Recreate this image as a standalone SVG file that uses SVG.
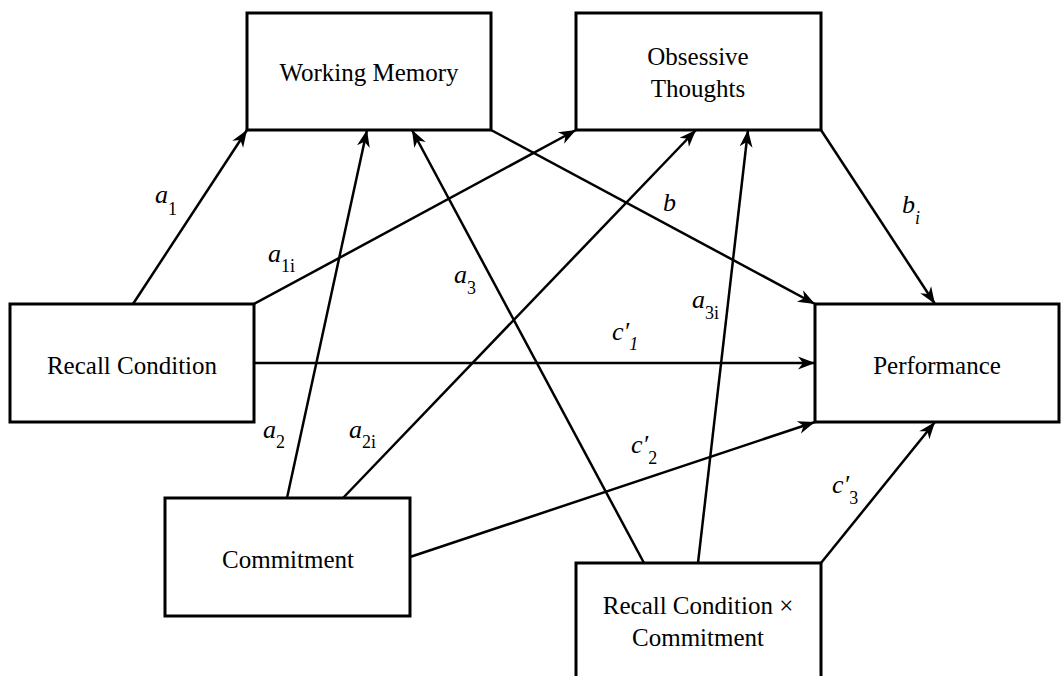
<svg xmlns="http://www.w3.org/2000/svg" width="1064" height="676" viewBox="0 0 1064 676">
<style>
.box{fill:#fff;stroke:#000;stroke-width:3}
.c{fill:none;stroke:#000;stroke-width:2.5;marker-end:url(#ah)}
</style>
<defs>
<marker id="ah" markerUnits="userSpaceOnUse" markerWidth="20" markerHeight="16" viewBox="-18 -8 20 16" refX="0" refY="0" orient="auto">
<path d="M0,0 L-17,-6.5 L-12,0 L-17,6.5 Z" fill="#000"/>
</marker>
</defs>
<rect width="1064" height="676" fill="#fff"/>
<g id="connectors">
<line class="c" x1="133" y1="304" x2="247" y2="130"/>
<line class="c" x1="254" y1="304" x2="576" y2="130"/>
<line class="c" x1="287" y1="498" x2="367" y2="130"/>
<line class="c" x1="343" y1="498" x2="696" y2="130"/>
<line class="c" x1="644" y1="563" x2="412" y2="130"/>
<line class="c" x1="698" y1="563" x2="748" y2="130"/>
<line class="c" x1="491" y1="130" x2="815" y2="304"/>
<line class="c" x1="821" y1="130" x2="935" y2="304"/>
<line class="c" x1="254" y1="363" x2="815" y2="363"/>
<line class="c" x1="410" y1="557" x2="815" y2="422"/>
<line class="c" x1="821" y1="563" x2="935" y2="422"/>
</g>
<g id="labels" font-family="Liberation Serif" font-style="italic" font-size="26" fill="#000">
<text x="155" y="203">a<tspan font-size="18" font-style="normal" dy="12">1</tspan></text>
<text x="268" y="262">a<tspan font-size="18" font-style="normal" dy="10">1i</tspan></text>
<text x="454" y="283">a<tspan font-size="18" font-style="normal" dy="11">3</tspan></text>
<text x="663" y="211">b</text>
<text x="902" y="213">b<tspan font-size="18" dy="11">i</tspan></text>
<text x="692" y="308">a<tspan font-size="18" font-style="normal" dy="11">3i</tspan></text>
<text x="612" y="340">c′<tspan font-size="18" dy="10">1</tspan></text>
<text x="263" y="438">a<tspan font-size="18" font-style="normal" dy="10">2</tspan></text>
<text x="349" y="438">a<tspan font-size="18" font-style="normal" dy="10">2i</tspan></text>
<text x="631" y="453">c′<tspan font-size="18" font-style="normal" dy="11">2</tspan></text>
<text x="832" y="493">c′<tspan font-size="18" font-style="normal" dy="11">3</tspan></text>
</g>
<g font-family="Liberation Serif" font-size="25" fill="#000" text-anchor="middle">
<g id="working-memory">
<rect class="box" x="247" y="13" width="244" height="117"/>
<text x="369" y="81">Working Memory</text>
</g>
<g id="obsessive-thoughts">
<rect class="box" x="576" y="13" width="245" height="117"/>
<text x="698" y="65">Obsessive</text>
<text x="698" y="97">Thoughts</text>
</g>
<g id="recall-condition">
<rect class="box" x="10" y="304" width="244" height="118"/>
<text x="132" y="374">Recall Condition</text>
</g>
<g id="performance">
<rect class="box" x="815" y="304" width="244" height="118"/>
<text x="937" y="374">Performance</text>
</g>
<g id="commitment">
<rect class="box" x="165" y="498" width="245" height="118"/>
<text x="288" y="568">Commitment</text>
</g>
<g id="recall-x-commitment">
<rect class="box" x="576" y="563" width="245" height="118"/>
<text x="698" y="614">Recall Condition ×</text>
<text x="698" y="646">Commitment</text>
</g>
</g>
</svg>
